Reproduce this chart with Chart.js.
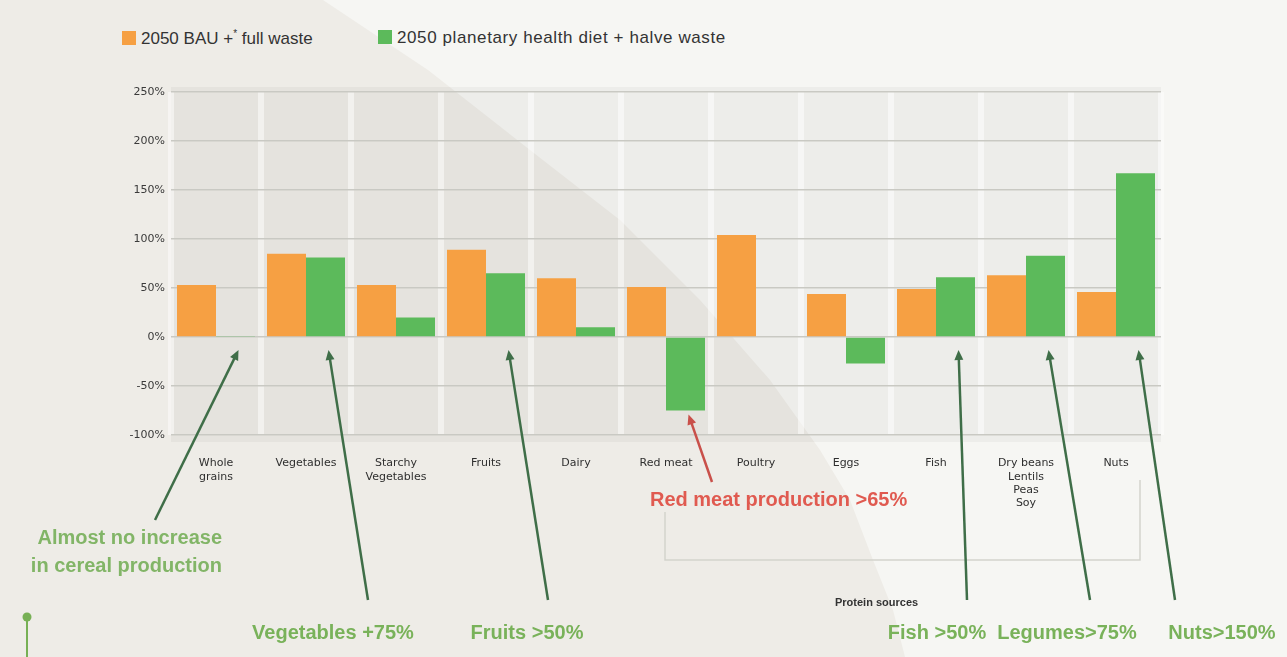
<!DOCTYPE html>
<html>
<head>
<meta charset="utf-8">
<script src="https://cdn.jsdelivr.net/npm/chart.js@4.4.1/dist/chart.umd.min.js"></script>
<style>
  html, body { margin: 0; padding: 0; }
  body { width: 1287px; height: 657px; background: #eeece7; position: relative; overflow: hidden; }
  #light { position: absolute; left: 0; top: 0; width: 1287px; height: 657px; background: #f6f6f3;
    clip-path: polygon(323px 0, 428px 70px, 530px 150px, 620px 220px, 700px 300px, 770px 380px, 820px 450px, 850px 500px, 873px 560px, 893px 610px, 905px 657px, 1287px 657px, 1287px 0); }
  #wrap { position: absolute; left: 0; top: 0; width: 1287px; height: 657px; }
  .legend { position: absolute; top: 28px; font-family: "Liberation Sans", sans-serif; font-size: 17px; color: #333; white-space: nowrap; }
  .legend span.box { display: inline-block; width: 14px; height: 14px; vertical-align: -1px; margin-right: 5px; }
  .legend sup { font-size: 10px; }
</style>
</head>
<body>
<div id="light"></div>
<div class="legend" style="left:122px"><span class="box" style="background:#f6a043"></span>2050 BAU +<sup>*</sup> full waste</div>
<div class="legend" style="left:378px; letter-spacing:0.6px"><span class="box" style="background:#5cba5b"></span>2050 planetary health diet + halve waste</div>
<div id="wrap"><canvas id="grafico"></canvas></div>
<script>
// categorias e valores (% de variação)
const categorias = [['Whole', 'grains'], 'Vegetables', ['Starchy', 'Vegetables'], 'Fruits', 'Dairy', 'Red meat', 'Poultry', 'Eggs', 'Fish', ['Dry beans', 'Lentils', 'Peas', 'Soy'], 'Nuts'];
const bauFullWaste = [53, 85, 53, 89, 60, 51, 104, 44, 49, 63, 46];
const dietHalveWaste = [1, 81, 20, 65, 10, -75, 0, -27, 61, 83, 167];
const yMin = -100;
const yMax = 250;
const yStep = 50;

// textos de destaque (anotações)
const setas = [
    { idx: 0, tail: [155, 520], cor: '#3f6e48' },
    { idx: 1, tail: [368, 600], cor: '#3f6e48' },
    { idx: 3, tail: [548, 600], cor: '#3f6e48' },
    { idx: 8, tail: [967, 600], cor: '#3f6e48' },
    { idx: 9, tail: [1090, 600], cor: '#3f6e48' },
    { idx: 10, tail: [1175, 600], cor: '#3f6e48' },
    { idx: 5, tail: [712, 482], cor: '#c9504a' }
];
const textos = [
    { t: 'Almost no increase', x: 222, y: 538, align: 'right', cor: '#82b567' },
    { t: 'in cereal production', x: 222, y: 566, align: 'right', cor: '#82b567' },
    { t: 'Vegetables +75%', x: 333, y: 633, align: 'center', cor: '#79b25a' },
    { t: 'Fruits >50%', x: 527, y: 633, align: 'center', cor: '#79b25a' },
    { t: 'Fish >50%', x: 937, y: 633, align: 'center', cor: '#79b25a' },
    { t: 'Legumes>75%', x: 1067, y: 633, align: 'center', cor: '#79b25a' },
    { t: 'Nuts>150%', x: 1222, y: 633, align: 'center', cor: '#79b25a' },
    { t: 'Red meat production >65%', x: 650, y: 500, align: 'left', cor: '#e05a50' }
];

function seta(ctx, x1, y1, x2, y2, cor) {
    ctx.save();
    ctx.strokeStyle = cor;
    ctx.fillStyle = cor;
    ctx.lineWidth = 2.5;
    const ang = Math.atan2(y2 - y1, x2 - x1);
    ctx.beginPath();
    ctx.moveTo(x1, y1);
    ctx.lineTo(x2 - 6 * Math.cos(ang), y2 - 6 * Math.sin(ang));
    ctx.stroke();
    ctx.beginPath();
    ctx.moveTo(x2, y2);
    ctx.lineTo(x2 - 10 * Math.cos(ang) + 4.5 * Math.sin(ang), y2 - 10 * Math.sin(ang) - 4.5 * Math.cos(ang));
    ctx.lineTo(x2 - 10 * Math.cos(ang) - 4.5 * Math.sin(ang), y2 - 10 * Math.sin(ang) + 4.5 * Math.cos(ang));
    ctx.closePath();
    ctx.fill();
    ctx.restore();
}

const anotacoes = {
    id: 'anotacoes',
    beforeDraw(chart) {
        const { ctx, chartArea: a } = chart;
        ctx.save();
        ctx.fillStyle = 'rgba(0,0,0,0.035)';
        ctx.fillRect(a.left, a.top - 5, a.right - a.left, a.bottom - a.top + 12);
        ctx.restore();
    },
    afterDraw(chart) {
        const ctx = chart.ctx;
        const y = chart.scales.y;
        const meta = chart.getDatasetMeta(1);
        const zero = y.getPixelForValue(0);

        // caixa "Protein sources"
        ctx.save();
        ctx.strokeStyle = '#d3d3cd';
        ctx.lineWidth = 1.5;
        ctx.beginPath();
        ctx.moveTo(665, 512);
        ctx.lineTo(665, 560);
        ctx.lineTo(1140, 560);
        ctx.lineTo(1140, 480);
        ctx.stroke();
        ctx.fillStyle = '#333';
        ctx.font = 'bold 11px "Liberation Sans", sans-serif';
        ctx.textBaseline = 'middle';
        ctx.fillText('Protein sources', 835, 603);
        ctx.restore();

        setas.forEach(s => {
            const bar = meta.data[s.idx];
            const v = dietHalveWaste[s.idx];
            const tx = bar.x + 3;
            const ty = v < 0 ? bar.y + 4 : zero + 13;
            seta(ctx, s.tail[0], s.tail[1], tx, ty, s.cor);
        });

        ctx.save();
        ctx.font = 'bold 20px "Liberation Sans", sans-serif';
        ctx.textBaseline = 'middle';
        textos.forEach(t => {
            ctx.fillStyle = t.cor;
            ctx.textAlign = t.align;
            ctx.fillText(t.t, t.x, t.y);
        });
        ctx.restore();

        // marcador verde no canto
        ctx.save();
        ctx.strokeStyle = '#77b055';
        ctx.fillStyle = '#77b055';
        ctx.lineWidth = 2;
        ctx.beginPath();
        ctx.moveTo(27, 617);
        ctx.lineTo(27, 657);
        ctx.stroke();
        ctx.beginPath();
        ctx.arc(27, 617, 4.5, 0, Math.PI * 2);
        ctx.fill();
        ctx.restore();
    }
};

new Chart(document.getElementById('grafico'), {
    type: 'bar',
    data: {
        labels: categorias,
        datasets: [{
            label: '2050 BAU + full waste',
            data: bauFullWaste,
            backgroundColor: '#f6a043',
            categoryPercentage: 0.867,
            barPercentage: 1
        }, {
            label: '2050 planetary health diet + halve waste',
            data: dietHalveWaste,
            backgroundColor: '#5cba5b',
            categoryPercentage: 0.867,
            barPercentage: 1
        }]
    },
    options: {
        responsive: true,
        maintainAspectRatio: false,
        animation: false,
        layout: { padding: { left: 120, right: 126, top: 92, bottom: 0 } },
        plugins: {
            legend: { display: false },
            tooltip: { enabled: false }
        },
        scales: {
            x: {
                afterFit(scale) { scale.height = 222; },
                grid: { color: 'rgba(255,255,255,0.45)', lineWidth: 6, drawTicks: false },
                border: { display: false },
                ticks: {
                    maxRotation: 0,
                    autoSkip: false,
                    padding: 22,
                    color: '#2f2f2f',
                    font: { family: 'DejaVu Sans', size: 11 }
                }
            },
            y: {
                min: yMin,
                max: yMax,
                afterFit(scale) { scale.width = 51; },
                grid: { color: '#c9c9c3', lineWidth: 1.5, drawTicks: false },
                border: { display: false },
                ticks: {
                    stepSize: yStep,
                    padding: 6,
                    color: '#3a3a3a',
                    font: { family: 'DejaVu Sans', size: 11 },
                    callback: v => v + '%'
                }
            }
        }
    },
    plugins: [anotacoes]
});
</script>
</body>
</html>
